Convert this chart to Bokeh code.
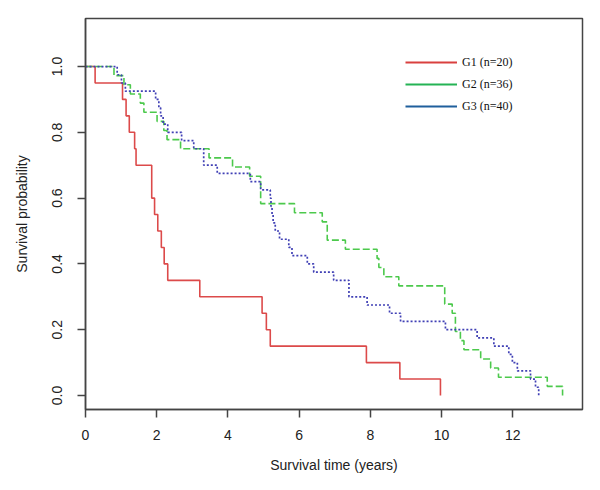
from bokeh.plotting import figure
from bokeh.models import Range1d, FixedTicker, NumeralTickFormatter, Legend, LegendItem
from bokeh.embed import file_html
from bokeh.resources import INLINE

# Kaplan-Meier step data (time in years, survival probability)
g1_time = [0, 0.27, 1.04, 1.14, 1.23, 1.38, 1.42, 1.86, 1.94, 2.03, 2.13, 2.21, 2.31,
           3.21, 4.96, 5.08, 5.19, 7.89, 8.83, 9.97]
g1_surv = [1.0, 0.95, 0.90, 0.85, 0.80, 0.75, 0.70, 0.60, 0.55, 0.50, 0.45, 0.40, 0.35,
           0.30, 0.25, 0.20, 0.15, 0.10, 0.05, 0.0]

g2_time = [0, 0.80, 1.08, 1.26, 1.54, 1.64, 2.01, 2.20, 2.29, 2.67, 3.47, 4.13, 4.61,
           4.92, 5.87, 6.65, 6.79, 7.30, 8.19, 8.24, 8.38, 8.80, 10.09, 10.30, 10.39,
           10.53, 10.63, 11.10, 11.38, 11.60, 12.97, 13.40]
g2_n = [36, 35, 34, 33, 32, 31, 30, 29, 28, 27, 26, 25, 24,
        21, 20, 19, 17, 16, 15, 14, 13, 12, 10, 9, 7,
        6, 5, 4, 3, 2, 1, 0]
g2_surv = [k / 36 for k in g2_n]

g3_time = [0, 0.89, 1.01, 1.12, 1.97, 2.06, 2.11, 2.18, 2.31, 2.70, 3.04, 3.32, 3.70,
           4.63, 4.92, 5.19, 5.21, 5.24, 5.27, 5.33, 5.45, 5.71, 5.80, 6.23, 6.41,
           6.97, 7.40, 7.91, 8.54, 8.85, 10.11, 11.00, 11.47, 11.89, 11.99, 12.13,
           12.50, 12.64, 12.73]
g3_surv = [1.0, 0.975, 0.95, 0.925, 0.90, 0.875, 0.85, 0.825, 0.80, 0.775, 0.75, 0.70, 0.675,
           0.65, 0.625, 0.60, 0.575, 0.55, 0.525, 0.50, 0.475, 0.45, 0.425, 0.40, 0.375,
           0.35, 0.30, 0.275, 0.25, 0.225, 0.20, 0.175, 0.15, 0.125, 0.10, 0.075,
           0.05, 0.025, 0.0]

group_labels = ["G1 (n=20)", "G2 (n=36)", "G3 (n=40)"]
x_ticks = [0, 2, 4, 6, 8, 10, 12]
y_ticks = [0.0, 0.2, 0.4, 0.6, 0.8, 1.0]

p = figure(width=592, height=482, output_backend="svg", toolbar_location=None,
           x_range=Range1d(0, 13.96), y_range=Range1d(-0.0426, 1.146),
           min_border_left=85, min_border_right=10, min_border_top=18, min_border_bottom=73)

p.step(g1_time, g1_surv, mode="after", line_color="#dc4a4a", line_width=1.6)
p.step(g2_time, g2_surv, mode="after", line_color="#4cc94c", line_width=1.6, line_dash="7 3")
p.step(g3_time, g3_surv, mode="after", line_color="#4040b5", line_width=1.7, line_dash="2 2")

# legend (solid lines as in the reference); renderers hold no visible data
nan = float("nan")
leg_colors = ["#d9403f", "#25b355", "#1f5f9c"]
items = []
for lab, col in zip(group_labels, leg_colors):
    r = p.line([nan, nan], [nan, nan], line_color=col, line_width=2)
    items.append(LegendItem(label=lab, renderers=[r]))
legend = Legend(items=items, location=(320, 292), glyph_width=52, glyph_height=22,
                label_height=22, spacing=0, padding=0, margin=0, label_standoff=5,
                label_text_font="Liberation Serif", label_text_font_size="12px",
                label_text_color="#111111", border_line_color=None,
                background_fill_alpha=0)
p.add_layout(legend)

p.xgrid.visible = False
p.ygrid.visible = False
p.outline_line_color = "#444444"
p.outline_line_width = 1.5

for ax in (p.xaxis[0], p.yaxis[0]):
    ax.axis_line_color = "#444444"
    ax.axis_line_width = 1.5
    ax.major_tick_line_color = "#444444"
    ax.major_tick_line_width = 1.5
    ax.major_tick_in = 0
    ax.major_tick_out = 8
    ax.minor_tick_line_color = None
    ax.major_label_text_font = "Liberation Sans"
    ax.major_label_text_font_size = "14px"
    ax.major_label_text_color = "#222222"
    ax.axis_label_text_font = "Liberation Sans"
    ax.axis_label_text_font_size = "14px"
    ax.axis_label_text_font_style = "normal"
    ax.axis_label_text_color = "#222222"

p.xaxis.ticker = FixedTicker(ticks=x_ticks)
p.yaxis.ticker = FixedTicker(ticks=y_ticks)
p.xaxis.formatter = NumeralTickFormatter(format="0")
p.yaxis.formatter = NumeralTickFormatter(format="0.0")
p.yaxis.major_label_orientation = "vertical"
p.xaxis.axis_label = "Survival time (years)"
p.yaxis.axis_label = "Survival probability"
p.xaxis.major_label_standoff = 12
p.xaxis.axis_label_standoff = 14
p.yaxis.major_label_standoff = 15
p.yaxis.axis_label_standoff = 20

open("out.html", "w").write(file_html(p, INLINE))
